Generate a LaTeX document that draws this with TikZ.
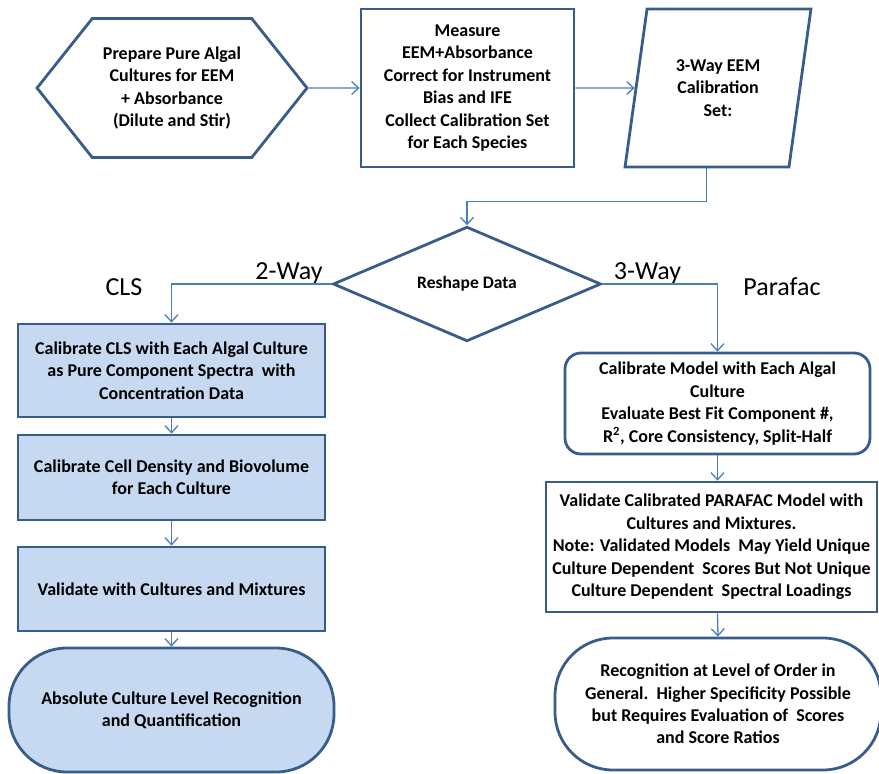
\documentclass[tikz,border=0pt]{standalone}
\usepackage{fontspec}
\setmainfont{Carlito}
\usetikzlibrary{shapes.geometric,shapes.symbols,arrows.meta,positioning}
\definecolor{edgeblue}{HTML}{385D8A}
\definecolor{linkblue}{HTML}{4A7EBB}
\definecolor{fillblue}{HTML}{C6D9F1}

\begin{document}
\begin{tikzpicture}[x=1pt,y=-1pt,
                every node/.append style = {font=\fontsize{18}{22.4}\selectfont\bfseries, align=center, inner sep=0pt},
                box/.style = {draw=edgeblue, line width=2.8pt},
                clsbox/.style = {box, fill=fillblue, minimum width=307pt},
                link/.style = {draw=linkblue, line width=1.3pt, -{Straight Barb[length=7pt,width=13pt]}},
                waylabel/.style = {font=\fontsize{26}{30}\selectfont, anchor=base}]
            \useasboundingbox (0,0) rectangle (879,774);
            % top row
            \node[box, signal, signal to=west and east, signal pointer angle=103,
                  minimum width=270pt, minimum height=139pt] (prep) at (172,88)
                  {Prepare Pure Algal\\Cultures for EEM\\+ Absorbance\\(Dilute and Stir)};
            \node[box, minimum width=213pt, minimum height=158pt] (measure) at (467.5,88)
                  {Measure\\EEM+Absorbance\\Correct for Instrument\\Bias and IFE\\Collect Calibration Set\\for Each Species};
            \node[box, trapezium, trapezium left angle=77, trapezium right angle=103, trapezium stretches=true,
                  minimum width=186pt, minimum height=158pt] (calset) at (718,88)
                  {3-Way EEM\\Calibration\\Set:};
            \node[box, diamond, minimum width=268pt, minimum height=102pt,
                  font=\fontsize{17.5}{20}\selectfont\bfseries] (reshape) at (467,284) {Reshape Data};
            % CLS branch
            \node[clsbox, minimum height=93pt] (cls1) at (171.5,370.5)
                  {Calibrate CLS with Each Algal Culture\\as Pure Component Spectra\ \ with\\Concentration Data};
            \node[clsbox, minimum height=85pt] (cls2) at (171.5,477.5)
                  {Calibrate Cell Density and Biovolume\\for Each Culture};
            \node[clsbox, minimum height=84pt] (cls3) at (171.5,589) {Validate with Cultures and Mixtures};
            \node[box, fill=fillblue, rounded corners=58pt, minimum width=325pt, minimum height=124pt] (clsend) at (171.5,710)
                  {Absolute Culture Level Recognition\\and Quantification};
            % Parafac branch
            \node[box, rounded corners=16pt, minimum width=305pt, minimum height=101pt] (par1) at (717.5,403.5)
                  {Calibrate Model with Each Algal\\Culture\\Evaluate Best Fit Component \#,\\R\textsuperscript{2}, Core Consistency, Split-Half};
            \node[box, minimum width=331pt, minimum height=130pt] (par2) at (711.5,547)
                  {Validate Calibrated PARAFAC Model with\\Cultures and Mixtures.\\Note: Validated Models\ \ May Yield Unique\\Culture Dependent\ \ Scores But Not Unique\\Culture Dependent\ \ Spectral Loadings};
            \node[box, rounded corners=58pt, minimum width=326pt, minimum height=132pt] (par3) at (718,704)
                  {Recognition at Level of Order in\\General.\ \ Higher Specificity Possible\\but Requires Evaluation of\ \ Scores\\and Score Ratios};
            % branch labels
            \node[waylabel] (twoway) at (289,279) {2-Way};
            \node[waylabel] (threeway) at (647.5,279) {3-Way};
            \node[waylabel] (clslabel) at (124,295) {CLS};
            \node[waylabel] (parlabel) at (782,295) {Parafac};
            % connectors
            \draw[link] (prep) -- (measure);
            \draw[link] (measure) -- (calset);
            \draw[link] (calset.bottom side) -- ++(0,33) -| (reshape.north);
            \draw[link] (reshape.west) -| (cls1.north);
            \draw[link] (reshape.east) -| (par1.north);
            \draw[link] (cls1) -- (cls2);
            \draw[link] (cls2) -- (cls3);
            \draw[link] (cls3) -- (clsend);
            \draw[link] (par1.south) -- (par1.south |- par2.north);
            \draw[link] (par2.south -| par1.south) -- (par3.north);
\end{tikzpicture}
\end{document}
